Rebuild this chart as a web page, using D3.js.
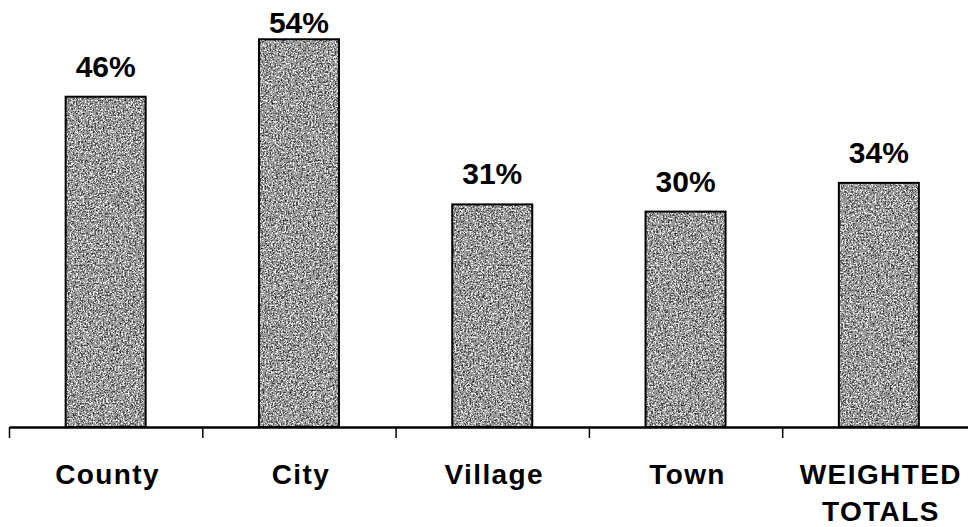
<!DOCTYPE html>
<html><head><meta charset="utf-8">
<script src="https://cdn.jsdelivr.net/npm/d3@7"></script>
<style>
html,body{margin:0;padding:0;background:#fff;}
svg{display:block;}
text{font-family:"Liberation Sans",Arial,sans-serif;font-weight:bold;fill:#000;}
</style></head>
<body>
<svg id="chart" width="968" height="527"></svg>
<script>
const categories = ["County", "City", "Village", "Town", "WEIGHTED TOTALS"];
const categoryLines = [["County"], ["City"], ["Village"], ["Town"], ["WEIGHTED", "TOTALS"]];
const values = [46, 54, 31, 30, 34];
const valueLabels = ["46%", "54%", "31%", "30%", "34%"];

const svg = d3.select("#chart");
const baseY = 427;
const x0 = 9, slotW = 193.3;

const defs = svg.append("defs");
const f = defs.append("filter").attr("id", "stipple")
  .attr("x", 0).attr("y", 0).attr("width", 1).attr("height", 1)
  .attr("color-interpolation-filters", "sRGB");
f.append("feTurbulence").attr("type", "fractalNoise").attr("baseFrequency", 0.6)
  .attr("numOctaves", 2).attr("seed", 4).attr("result", "n");
f.append("feColorMatrix").attr("in", "n").attr("type", "matrix")
  .attr("values", "1 0 0 0 0  1 0 0 0 0  1 0 0 0 0  0 0 0 0 1").attr("result", "g");
const ct = f.append("feComponentTransfer").attr("in", "g").attr("result", "d");
["feFuncR", "feFuncG", "feFuncB"].forEach(k =>
  ct.append(k).attr("type", "discrete").attr("tableValues", "0.05 0.3 0.6 0.9 1"));
f.append("feComposite").attr("in", "d").attr("in2", "SourceGraphic").attr("operator", "in");

const slot = d3.scaleLinear().domain([0, categories.length]).range([x0, x0 + slotW * categories.length]);
const y = d3.scaleLinear().domain([0, 60]).range([baseY, baseY - 60 * 7.18]);
const barW = 80;

const bars = svg.append("g");
values.forEach((v, i) => {
  const cx = slot(i + 0.5);
  bars.append("rect").attr("x", cx - barW / 2).attr("y", y(v))
    .attr("width", barW).attr("height", y(0) - y(v))
    .attr("fill", "#888").attr("filter", "url(#stipple)");
  bars.append("rect").attr("x", cx - barW / 2).attr("y", y(v))
    .attr("width", barW).attr("height", y(0) - y(v))
    .attr("fill", "none").attr("stroke", "#000").attr("stroke-width", 2);
  svg.append("text").attr("x", cx).attr("y", Math.max(y(v) - 20, 33))
    .attr("text-anchor", "middle").style("font-size", "30px").text(valueLabels[i]);
});

const axis = d3.axisBottom(slot).tickValues(d3.range(0, categories.length + 1))
  .tickSize(11).tickSizeOuter(0).tickFormat("");
const ax = svg.append("g").attr("transform", `translate(0,${baseY})`).call(axis);
ax.select(".domain").attr("stroke", "#000").attr("stroke-width", 2.5);
ax.selectAll(".tick line").attr("stroke", "#000").attr("stroke-width", 1.5);

categoryLines.forEach((lines, i) => {
  const t = svg.append("text").attr("x", slot(i + 0.5) + 2).attr("y", 484)
    .attr("text-anchor", "middle").style("font-size", "28px").style("letter-spacing", "1.4px");
  lines.forEach((l, j) => t.append("tspan").attr("x", slot(i + 0.5) + 2).attr("y", 484 + j * 37).text(l));
});
</script>
</body></html>
